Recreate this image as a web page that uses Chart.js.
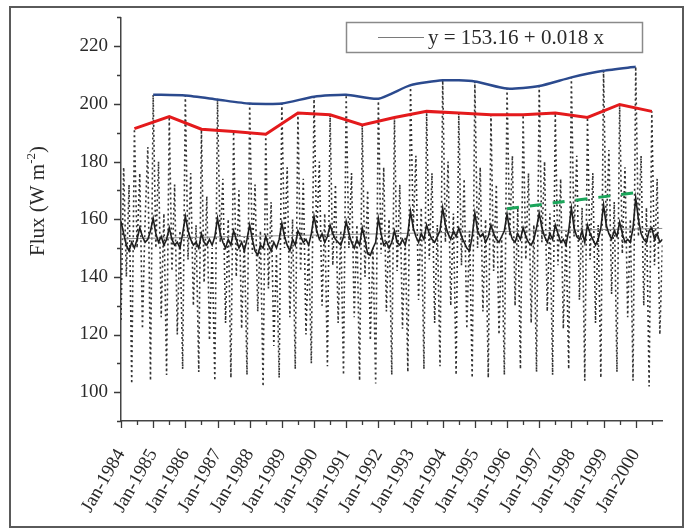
<!DOCTYPE html>
<html>
<head>
<meta charset="utf-8">
<script src="https://cdn.jsdelivr.net/npm/chart.js@4.4.0/dist/chart.umd.min.js"></script>
<style>
  html, body { margin: 0; padding: 0; background: #fff; }
  #wrap { position: relative; width: 689px; height: 531px; }
  #frame { position: absolute; left: 9px; top: 6px; width: 675px; height: 522px; border: 2px solid #5a5a5a; box-sizing: border-box; }
  canvas { position: absolute; left: 0; top: 0; }
</style>
</head>
<body>
<div id="wrap">
  <div id="frame"></div>
  <canvas id="fluxChart" width="689" height="531"></canvas>
</div>
<script>
// months counted from Jan-1984 (0) ; one row per year
const fluxMonthly = [
  125, 178, 140, 172, 103, 191.4, 150, 176, 122, 160, 185, 104,      // 1984
  203.2, 150, 180, 126, 162, 106, 195.6, 142, 172, 120, 156, 108,    // 1985
  202.9, 146, 176, 130, 158, 107, 191.2, 138, 168, 118, 150, 104,    // 1986
  201.5, 152, 174, 124, 160, 105, 190.4, 140, 170, 122, 154, 106,    // 1987
  200.1, 148, 172, 128, 156, 102, 189.5, 136, 166, 116, 148, 105,    // 1988
  200.1, 150, 178, 126, 160, 108, 196.8, 142, 174, 120, 152, 110,    // 1989
  202.5, 154, 180, 130, 162, 109, 196.2, 144, 172, 124, 156, 106,    // 1990
  203.2, 150, 176, 126, 158, 104, 192.7, 140, 170, 118, 150, 103,    // 1991
  201.8, 148, 178, 128, 160, 106, 195.3, 142, 172, 122, 154, 107,    // 1992
  206.5, 156, 182, 132, 164, 108, 197.4, 146, 176, 124, 158, 109,    // 1993
  208.2, 152, 180, 130, 162, 106, 196.8, 144, 174, 122, 156, 105,    // 1994
  207.8, 150, 178, 128, 160, 105, 196.2, 142, 172, 120, 154, 106,    // 1995
  205.3, 154, 182, 130, 164, 108, 196.2, 146, 176, 124, 158, 107,    // 1996
  206.2, 152, 180, 128, 162, 106, 196.8, 144, 174, 122, 156, 108,    // 1997
  209.2, 154, 182, 132, 164, 104, 195.3, 146, 176, 124, 158, 105,    // 1998
  211.5, 156, 184, 134, 166, 107, 199.8, 148, 178, 126, 160, 104,    // 1999
  212.9, 154, 182, 130, 164, 102, 197.4, 144, 174, 120, 152          // 2000
];

const smoothMonthly = [
  159.2, 155, 151, 149, 152, 150, 153, 157, 154, 152, 153, 156,
  160.3, 155, 152, 154, 151, 153, 157, 153, 151, 152, 150, 155,
  161.0, 156, 153, 151, 152, 150, 155, 152, 151, 153, 151, 154,
  160.3, 155, 152, 150, 153, 151, 156, 153, 150, 152, 149, 153,
  158.0, 153, 149, 147.5, 151, 150, 154, 151, 149, 152, 150, 153,
  158.6, 154, 151, 149, 153, 151, 156, 154, 152, 153, 151, 155,
  161.0, 156, 153, 155, 152, 154, 158, 155, 153, 152, 151, 154,
  159.2, 155, 152, 150, 153, 151, 157, 153, 148, 147.5, 150, 152,
  160.3, 155, 151, 152, 150, 152, 156, 152, 151, 153, 151, 155,
  162.7, 157, 154, 152, 155, 153, 158, 155, 153, 152, 154, 156,
  163.9, 158, 155, 153, 156, 154, 157, 154, 152, 150, 149, 154,
  162.1, 156, 154, 155, 152, 154, 158, 155, 153, 152, 154, 156,
  161.8, 156, 153, 152, 155, 153, 157, 154, 152, 151, 153, 157,
  162.1, 157, 154, 152, 155, 153, 158, 155, 152, 153, 151, 156,
  163.9, 157, 154, 153, 156, 152, 158, 155, 153, 151, 153, 157,
  165.0, 158, 155, 153, 156, 154, 159, 155, 152, 153, 152, 157,
  167.4, 160, 155, 153, 152, 156, 157, 153, 155, 152, 153
];

// annual maxima (January of each year)
const maxMonths = [12, 24, 36, 48, 60, 72, 84, 96, 108, 120, 132, 144, 156, 168, 180, 192];
const maxValues = [203.2, 202.9, 201.5, 200.1, 200.1, 202.5, 203.2, 201.8, 206.5, 208.2, 207.8, 205.3, 206.2, 209.2, 211.5, 212.9];

// secondary maxima (mid year)
const midMonths = [5, 18, 30, 42, 54, 66, 78, 90, 102, 114, 126, 138, 150, 162, 174, 186, 198];
const midValues = [191.4, 195.6, 191.2, 190.4, 189.5, 196.8, 196.2, 192.7, 195.3, 197.4, 196.8, 196.2, 196.2, 196.8, 195.3, 199.8, 197.4];

// linear fit y = 153.16 + 0.018 x
const trendMonths = [0, 202];
const trendValues = [153.2, 156.8];

// peak trend 1996-2000
const peakMonths = [144, 192];
const peakValues = [163.6, 169.2];

const serif = "'Liberation Serif', 'Times New Roman', serif";
const ink = '#2a2a2a';

function pts(xs, ys) {
  return ys.map((v, i) => ({ x: xs ? xs[i] : i, y: v }));
}

const isMajorY = v => v % 20 === 0 && v >= 100 && v <= 220;
const isMajorX = v => v % 12 === 0;

const extras = {
  id: 'extras',
  afterDraw(chart) {
    const ctx = chart.ctx;
    const xs = chart.scales.x, ys = chart.scales.y;
    const area = chart.chartArea;
    ctx.save();
    ctx.strokeStyle = '#3a3a3a';
    ctx.lineWidth = 1.3;
    ctx.beginPath();
    ys.ticks.forEach(t => {
      const py = Math.round(ys.getPixelForValue(t.value)) + 0.5;
      const len = isMajorY(t.value) ? 7 : 4;
      ctx.moveTo(area.left - len, py);
      ctx.lineTo(area.left, py);
    });
    xs.ticks.forEach(t => {
      const px = Math.round(xs.getPixelForValue(t.value)) + 0.5;
      const len = isMajorX(t.value) ? 7 : 4;
      ctx.moveTo(px, area.bottom);
      ctx.lineTo(px, area.bottom + len);
    });
    ctx.stroke();

    // y axis title with superscript
    ctx.fillStyle = ink;
    ctx.textBaseline = 'alphabetic';
    const mainFont = '21px ' + serif, supFont = '13px ' + serif;
    ctx.font = mainFont;
    const w1 = ctx.measureText('Flux (W m').width;
    const w3 = ctx.measureText(')').width;
    ctx.font = supFont;
    const w2 = ctx.measureText('-2').width;
    const total = w1 + w2 + w3;
    ctx.translate(44, 201);
    ctx.rotate(-Math.PI / 2);
    let x0 = -total / 2;
    ctx.font = mainFont;
    ctx.fillText('Flux (W m', x0, 0);
    ctx.font = supFont;
    ctx.fillText('-2', x0 + w1, -9);
    ctx.font = mainFont;
    ctx.fillText(')', x0 + w1 + w2, 0);
    ctx.setTransform(1, 0, 0, 1, 0, 0);

    // legend box
    ctx.fillStyle = '#fff';
    ctx.fillRect(346, 22, 296, 30);
    ctx.strokeStyle = '#8a8a8a';
    ctx.lineWidth = 1.5;
    ctx.strokeRect(346.5, 22.5, 296, 30);
    ctx.strokeStyle = '#7a7a7a';
    ctx.lineWidth = 1;
    ctx.beginPath();
    ctx.moveTo(378, 37.5);
    ctx.lineTo(424, 37.5);
    ctx.stroke();
    ctx.fillStyle = ink;
    ctx.font = '21px ' + serif;
    ctx.textBaseline = 'middle';
    ctx.fillText('y = 153.16 + 0.018 x', 428, 38);
    ctx.restore();
  }
};

new Chart(document.getElementById('fluxChart'), {
  type: 'line',
  data: {
    datasets: [
      { data: pts(peakMonths, peakValues), borderColor: '#1aa55a', borderWidth: 3, borderDash: [12, 11] },
      { data: pts(midMonths, midValues), borderColor: '#e41a1c', borderWidth: 3 },
      { data: pts(maxMonths, maxValues), borderColor: '#2b4a8e', borderWidth: 2.5, tension: 0.2 },
      { data: pts(null, smoothMonthly), borderColor: '#1e1e1e', borderWidth: 1.6 },
      { data: pts(trendMonths, trendValues), borderColor: '#8c8c8c', borderWidth: 1 },
      { data: pts(null, fluxMonthly), borderColor: '#333', borderWidth: 1.6, borderDash: [2, 3] }
    ]
  },
  options: {
    responsive: false,
    animation: false,
    devicePixelRatio: 1,
    elements: { point: { radius: 0 }, line: { fill: false, tension: 0 } },
    layout: { padding: { left: 0, top: 15, right: 23, bottom: 0 } },
    plugins: { legend: { display: false }, tooltip: { enabled: false } },
    scales: {
      x: {
        type: 'linear',
        min: 0,
        max: 202,
        afterFit: s => { s.height = 110; },
        border: { color: '#444', width: 1.5 },
        grid: { drawOnChartArea: false, tickLength: 7, tickColor: 'rgba(0,0,0,0)' },
        ticks: {
          stepSize: 6,
          autoSkip: false,
          includeBounds: false,
          minRotation: 60,
          maxRotation: 60,
          padding: 17,
          color: ink,
          font: { family: serif, size: 19 },
          callback: v => isMajorX(v) ? 'Jan-' + (1984 + v / 12) : ''
        }
      },
      y: {
        min: 90,
        max: 230,
        afterFit: s => { s.width = 121; },
        border: { color: '#444', width: 1.5 },
        grid: { drawOnChartArea: false, tickLength: 7, tickColor: 'rgba(0,0,0,0)' },
        ticks: {
          stepSize: 10,
          padding: 6,
          color: ink,
          font: { family: serif, size: 19 },
          callback: v => isMajorY(v) ? v : ''
        }
      }
    }
  },
  plugins: [extras]
});
</script>
</body>
</html>
